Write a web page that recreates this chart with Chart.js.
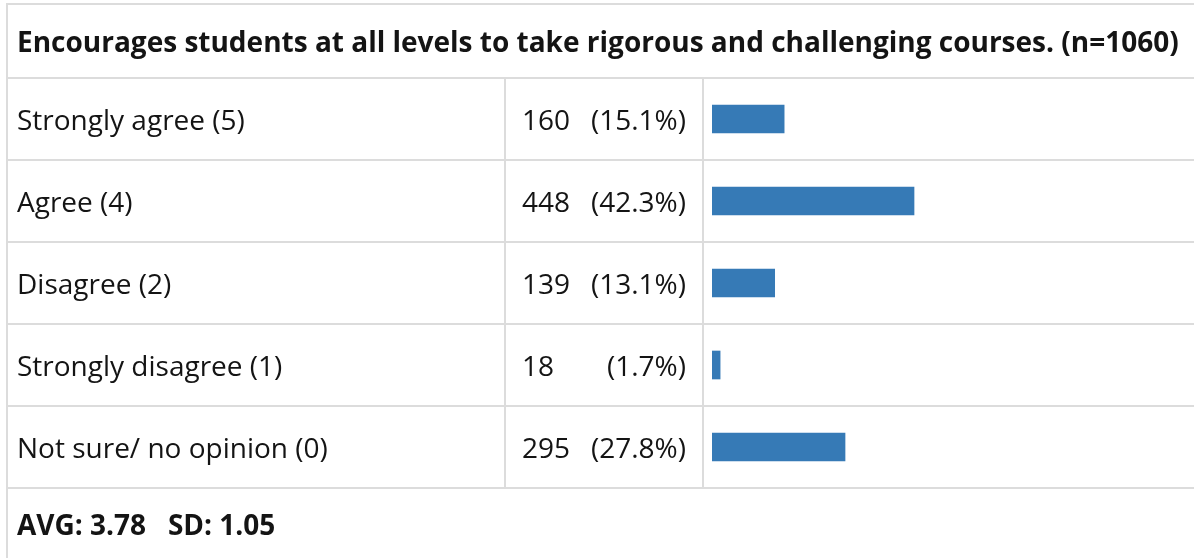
<!DOCTYPE html>
<html>
<head>
<meta charset="utf-8">
<script src="https://cdn.jsdelivr.net/npm/chart.js@4"></script>
<style>
  body { margin: 0; background: #fff; }
  canvas { display: block; }
</style>
</head>
<body>
<canvas id="grafico" width="1194" height="558"></canvas>
<script>
var titulo = 'Encourages students at all levels to take rigorous and challenging courses. (n=1060)';
var categorias = ['Strongly agree (5)', 'Agree (4)', 'Disagree (2)', 'Strongly disagree (1)', 'Not sure/ no opinion (0)'];
var contagens = [160, 448, 139, 18, 295];
var percentuais = ['15.1%', '42.3%', '13.1%', '1.7%', '27.8%'];
var total = 1060;
var rodape = 'AVG: 3.78   SD: 1.05';

var linha = '#dcdcdc';
var texto = '#141414';
var fonte = '"Open Sans", "Noto Sans", sans-serif';

// desenha a tabela em volta das barras
var tabela = {
    id: 'tabela',
    beforeDraw: function(chart){
        var ctx = chart.ctx;
        var y = chart.scales.y;
        var meio = (y.getPixelForValue(1) - y.getPixelForValue(0)) / 2;
        var topo = y.getPixelForValue(0) - meio;
        var base = y.getPixelForValue(categorias.length - 1) + meio;
        ctx.save();
        ctx.fillStyle = linha;
        ctx.fillRect(6, 3, 1188, 2);
        ctx.fillRect(6, 3, 2, 555);
        ctx.fillRect(6, topo - 1, 1188, 2);
        for (var i = 0; i < categorias.length; i++) {
            ctx.fillRect(6, y.getPixelForValue(i) + meio - 1, 1188, 2);
        }
        ctx.fillRect(504, topo, 2, base - topo);
        ctx.fillRect(702, topo, 2, base - topo);

        ctx.fillStyle = texto;
        ctx.textBaseline = 'middle';
        ctx.font = 'bold 28px ' + fonte;
        ctx.textAlign = 'left';
        ctx.fillText(titulo, 17, (4 + topo) / 2 + 3);
        ctx.fillText(rodape, 17, base + 39);

        ctx.font = '28px ' + fonte;
        for (var j = 0; j < categorias.length; j++) {
            var cy = y.getPixelForValue(j) + 3;
            ctx.textAlign = 'left';
            ctx.fillText(categorias[j], 17, cy);
            ctx.fillText(String(contagens[j]), 522, cy);
            ctx.textAlign = 'right';
            ctx.fillText('(' + percentuais[j] + ')', 686, cy);
        }
        ctx.restore();
    }
};

window.onload = function(){
    var contexto = document.getElementById('grafico').getContext('2d');
    var grafico = new Chart(contexto, {
        type: 'bar',
        data: {
            labels: categorias,
            datasets: [{
                data: contagens,
                backgroundColor: '#367ab6',
                borderWidth: 0,
                barThickness: 28
            }]
        },
        options: {
            indexAxis: 'y',
            responsive: false,
            animation: false,
            devicePixelRatio: 1,
            layout: { padding: { left: 712, right: 4, top: 78, bottom: 70 } },
            plugins: { legend: { display: false }, tooltip: { enabled: false } },
            scales: {
                x: { display: false, min: 0, max: total },
                y: { display: false }
            }
        },
        plugins: [tabela]
    });
};
</script>
</body>
</html>
